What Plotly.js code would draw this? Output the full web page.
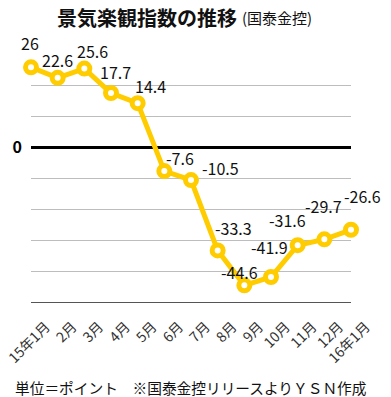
<!DOCTYPE html>
<html>
<head>
<meta charset="utf-8">
<script src="https://cdn.plot.ly/plotly-3.0.1.min.js"></script>
<style>html,body{margin:0;padding:0;background:#fff;}#chart{width:391px;height:397px;}</style>
</head>
<body>
<div id="chart"></div>
<script>
// ---- data ----
const months = ['15年1月','2月','3月','4月','5月','6月','7月','8月','9月','10月','11月','12月','16年1月'];
const values = [26, 22.6, 25.6, 17.7, 14.4, -7.6, -10.5, -33.3, -44.6, -41.9, -31.6, -29.7, -26.6];
const valueLabels = ['26','22.6','25.6','17.7','14.4','-7.6','-10.5','-33.3','-44.6','-41.9','-31.6','-29.7','-26.6'];
const yTickVals = [-50, -40, -30, -20, -10, 0, 10, 20, 30];
const yTickText = ['', '', '', '', '', '<b>0</b>', '', '', ''];

// ---- style: label offsets (px) relative to each point ----
const labelDX = [-1, 0, 8, 4, 13, 16, 29, 16, -5, -2, -10, -1, 11];
const labelDY = [24, 18, 18, 21, 17, 13, 12, 22, 13, 30, 25, 33, 34];

const FONT = '"Noto Sans CJK JP", "Noto Sans", sans-serif';
const YELLOW = '#FFCC00';

const trace = {
  x: months,
  y: values,
  type: 'scatter',
  mode: 'lines+markers',
  line: {color: YELLOW, width: 5},
  marker: {size: 11, color: '#ffffff', line: {color: YELLOW, width: 5}},
  cliponaxis: false,
  hoverinfo: 'skip'
};

const annotations = months.map((m, i) => ({
  x: m, y: values[i], xref: 'x', yref: 'y',
  text: valueLabels[i], showarrow: false,
  xshift: labelDX[i], yshift: labelDY[i],
  font: {family: FONT, size: 16, color: '#111'}
}));
annotations.push({
  xref: 'paper', yref: 'paper', x: 0.5, y: 0, yanchor: 'middle',
  xanchor: 'center', yshift: -85,
  text: '単位＝ポイント　※国泰金控リリースよりＹＳＮ作成',
  showarrow: false, font: {family: FONT, size: 14.7, color: '#111'}
});
annotations.push({
  xref: 'paper', yref: 'paper', x: 0.653, y: 1.15, xanchor: 'left', yanchor: 'middle',
  text: '(国泰金控)',
  showarrow: false, font: {family: FONT, size: 15, color: '#111'}
});

const layout = {
  width: 391, height: 397,
  margin: {l: 31, r: 40, t: 55, b: 95},
  paper_bgcolor: '#fff', plot_bgcolor: '#fff',
  showlegend: false,
  title: {
    text: '<b>景気楽観指数の推移</b>',
    font: {family: FONT, size: 20, color: '#111'},
    x: 0.376, xanchor: 'center', y: 0.953, yanchor: 'middle'
  },
  xaxis: {
    type: 'category',
    range: [0, 12],
    showgrid: false,
    zeroline: false,
    showline: true, linecolor: '#555', linewidth: 1,
    ticks: '',
    tickangle: -45,
    ticklabelshift: 15,
    ticklabelstandoff: 10,
    tickfont: {family: FONT, size: 14, color: '#333'}
  },
  yaxis: {
    range: [-50, 30],
    tickvals: yTickVals,
    ticktext: yTickText,
    showgrid: true, gridcolor: '#bdbdbd', gridwidth: 1,
    zeroline: true, zerolinecolor: '#000', zerolinewidth: 3,
    showline: false,
    ticks: '',
    ticklabelstandoff: 8,
    tickfont: {family: FONT, size: 16, color: '#000'}
  },
  annotations: annotations
};

Plotly.newPlot('chart', [trace], layout, {displayModeBar: false, staticPlot: true});
</script>
</body>
</html>
